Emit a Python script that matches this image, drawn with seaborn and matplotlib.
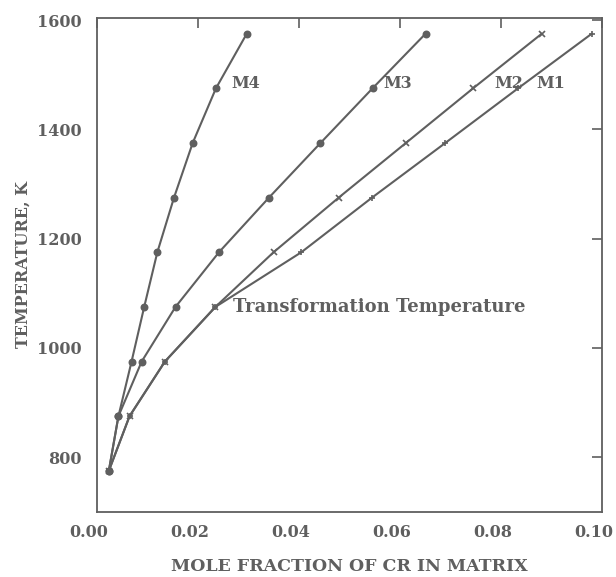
import matplotlib
matplotlib.use("Agg")
import matplotlib.pyplot as plt
import matplotlib.transforms as mtransforms
import seaborn as sns
import pandas as pd

# temperatures (K) at which each alloy was evaluated
temps = [775, 875, 975, 1075, 1175, 1275, 1375, 1475, 1575]

# mole fraction of Cr in matrix
m4 = [0.0024, 0.0043, 0.0069, 0.0094, 0.0120, 0.0153, 0.0190, 0.0236, 0.0297]
m3 = [0.0024, 0.0043, 0.0089, 0.0156, 0.0242, 0.0341, 0.0443, 0.0546, 0.0651]
m2 = [0.0024, 0.0065, 0.0135, 0.0235, 0.0350, 0.0479, 0.0612, 0.0745, 0.0881]
m1 = [0.0024, 0.0065, 0.0135, 0.0235, 0.0405, 0.0545, 0.0690, 0.0834, 0.0980]

series = {"M4": m4, "M3": m3, "M2": m2, "M1": m1}
markers = {"M4": "o", "M3": "o", "M2": "x", "M1": "+"}

df = pd.concat(
    [pd.DataFrame({"x": v, "T": temps, "alloy": k}) for k, v in series.items()],
    ignore_index=True)

sns.set_style("white")
plt.rcParams["font.family"] = ["DejaVu Serif", "DejaVu Sans"]
gray = "#5f5f5f"

fig = plt.figure(figsize=(6.16, 5.77), dpi=100)
ax = fig.add_axes([0.157, 0.113, 0.820, 0.856])

for name in series:
    sub = df[df["alloy"] == name]
    sns.lineplot(data=sub, x="x", y="T", ax=ax, color=gray, lw=1.5,
                 marker=markers[name], markersize=4.5 if markers[name] == "o" else 5,
                 mew=1.2, mec=gray, mfc=gray, legend=False)

# curve labels
for name, xpos in [("M4", 0.0267), ("M3", 0.0568), ("M2", 0.0788), ("M1", 0.0871)]:
    ax.text(xpos, 1484, name, color=gray, fontsize=11.5, fontweight="bold", va="center")
ax.text(0.0269, 1075, "Transformation Temperature", color=gray, fontsize=13,
        fontweight="bold", va="center")

ax.set_xlim(0, 0.10)
ax.set_ylim(700, 1604)
ax.set_xticks([0.00, 0.02, 0.04, 0.06, 0.08, 0.10])
ax.set_xticklabels(["0.00", "0.02", "0.04", "0.06", "0.08", "0.10"])
ax.set_yticks([800, 1000, 1200, 1400, 1600])

ax.tick_params(direction="in", length=7, width=1.2, colors=gray,
               top=True, right=True, labelsize=11.5)
ax.tick_params(axis="x", pad=9)
ax.tick_params(axis="y", pad=11)
shift = mtransforms.ScaledTranslation(-8 / 100, 0, fig.dpi_scale_trans)
for lab in ax.get_xticklabels():
    lab.set_fontweight("bold")
    lab.set_transform(lab.get_transform() + shift)
for lab in ax.get_yticklabels():
    lab.set_fontweight("bold")
for sp in ax.spines.values():
    sp.set_color(gray)
    sp.set_linewidth(1.3)

ax.set_xlabel("MOLE FRACTION OF CR IN MATRIX", color=gray, fontsize=12.5,
              fontweight="bold", labelpad=12)
ax.set_ylabel("TEMPERATURE, K", color=gray, fontsize=11.5, fontweight="bold",
              labelpad=4)

fig.savefig("out.png", dpi=100)
